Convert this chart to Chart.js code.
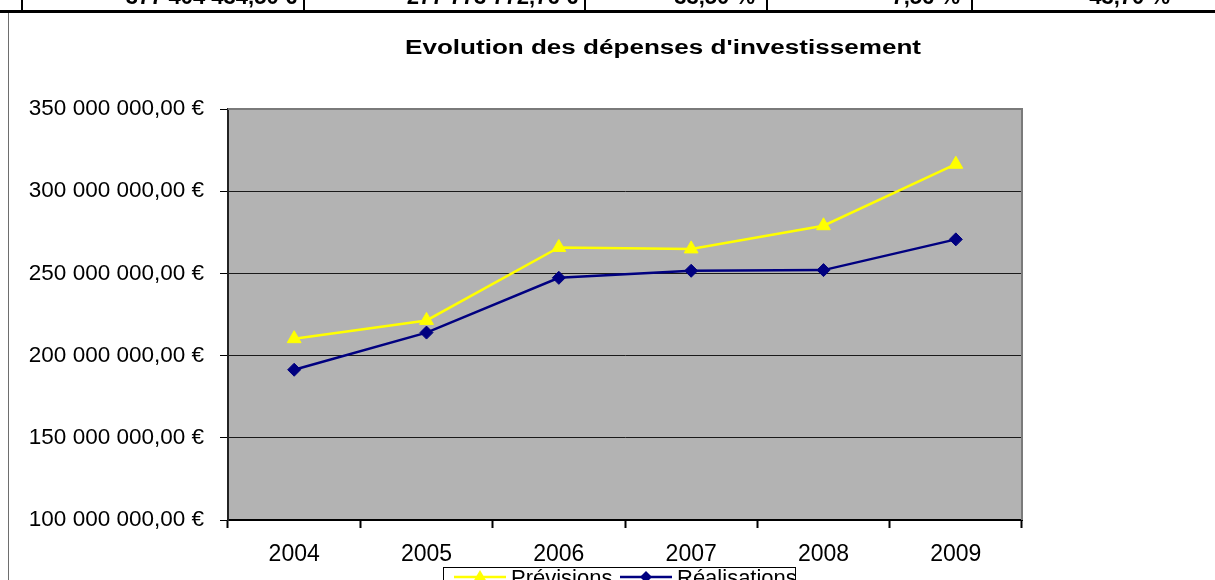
<!DOCTYPE html>
<html>
<head>
<meta charset="utf-8">
<script src="https://cdn.jsdelivr.net/npm/chart.js"></script>
<style>
  html, body { margin: 0; padding: 0; background: #fff; overflow: hidden; }
  #wrap { position: relative; width: 1215px; height: 580px; }
  #c { position: absolute; left: 0; top: 0; }
  .tbl { position: absolute; left: 0; top: 0; width: 1215px; height: 10px; overflow: hidden; z-index: 2; }
  .cell { position: absolute; top: -16px; line-height: 22px; font: bold 22px "Liberation Sans", Arial, sans-serif; white-space: nowrap; color: #000; }
  .vb { position: absolute; top: 0; width: 2px; height: 10px; background: #000; }
  .hb { position: absolute; left: 0; top: 10px; width: 1215px; height: 3px; background: #000; z-index: 2; }
  .frame { position: absolute; left: 8px; top: 13px; width: 1px; height: 567px; background: #6e6e6e; z-index: 2; }
</style>
</head>
<body>
<div id="wrap">
  <canvas id="c" width="1215" height="580"></canvas>
  <div class="tbl">
    <div class="vb" style="left:21px"></div>
    <div class="vb" style="left:303px"></div>
    <div class="vb" style="left:584px"></div>
    <div class="vb" style="left:766px"></div>
    <div class="vb" style="left:971px"></div>
    <span class="cell" style="right:918px">377 404 434,50 €</span>
    <span class="cell" style="right:637px">277 773 772,76 €</span>
    <span class="cell" style="right:460px">33,50 %</span>
    <span class="cell" style="right:255px">7,56 %</span>
    <span class="cell" style="right:45px">43,70 %</span>
  </div>
  <div class="hb"></div>
  <div class="frame"></div>
</div>
<script>
// ---- data ----
const chartTitle = "Evolution des dépenses d'investissement";
const years = ['2004', '2005', '2006', '2007', '2008', '2009'];
const previsions = [210300000, 221400000, 265800000, 264900000, 279000000, 316400000];
const realisations = [191400000, 214000000, 247300000, 251600000, 252000000, 270700000];
const yMin = 100000000, yMax = 350000000, yStep = 50000000;

const FONT = '"Liberation Sans", Arial, sans-serif';

function euro(v) {
  return Math.round(v).toString().replace(/\B(?=(\d{3})+(?!\d))/g, ' ') + ',00 €';
}

const plotDecor = {
  id: 'plotDecor',
  beforeDraw(chart) {
    const { ctx, chartArea: a } = chart;
    ctx.save();
    ctx.fillStyle = '#b3b3b3';
    ctx.fillRect(a.left, a.top, a.right - a.left, a.bottom - a.top);
    ctx.restore();
  },
  beforeDatasetsDraw(chart) {
    const { ctx, chartArea: a } = chart;
    ctx.save();
    ctx.strokeStyle = '#7a7a7a';
    ctx.lineWidth = 2;
    ctx.beginPath();
    ctx.moveTo(a.left, a.top);
    ctx.lineTo(a.right, a.top);
    ctx.lineTo(a.right, a.bottom);
    ctx.stroke();
    ctx.restore();
  },
  afterDraw(chart) {
    const { ctx } = chart;
    ctx.save();
    // title
    ctx.font = 'bold 20px ' + FONT;
    ctx.fillStyle = '#000';
    ctx.textBaseline = 'alphabetic';
    const w = ctx.measureText(chartTitle).width;
    const targetW = 516;
    ctx.translate(663, 54);
    ctx.scale(targetW / w, 1);
    ctx.textAlign = 'center';
    ctx.fillText(chartTitle, 0, 0);
    ctx.restore();

    // legend
    ctx.save();
    ctx.strokeStyle = '#000';
    ctx.lineWidth = 1;
    ctx.strokeRect(443.5, 567.5, 352, 40);
    const starts = [454, 620];
    const ly = 577;
    chart.data.datasets.forEach((ds, i) => {
      const x = starts[i];
      ctx.strokeStyle = ds.borderColor;
      ctx.lineWidth = 2.5;
      ctx.beginPath();
      ctx.moveTo(x, ly);
      ctx.lineTo(x + 52, ly);
      ctx.stroke();
      ctx.fillStyle = ds.borderColor;
      const cx = x + 26;
      ctx.beginPath();
      if (ds.pointStyle === 'triangle') {
        const r = 7;
        ctx.moveTo(cx, ly - r);
        ctx.lineTo(cx + r, ly + r * 0.7);
        ctx.lineTo(cx - r, ly + r * 0.7);
      } else {
        const r = 6;
        ctx.moveTo(cx, ly - r);
        ctx.lineTo(cx + r, ly);
        ctx.lineTo(cx, ly + r);
        ctx.lineTo(cx - r, ly);
      }
      ctx.closePath();
      ctx.fill();
      ctx.fillStyle = '#000';
      ctx.font = '22px ' + FONT;
      ctx.textAlign = 'left';
      ctx.textBaseline = 'alphabetic';
      ctx.fillText(ds.label, x + 57, 585);
    });
    ctx.restore();
  }
};

new Chart(document.getElementById('c'), {
  type: 'line',
  data: {
    labels: years,
    datasets: [
      {
        label: 'Prévisions',
        data: previsions,
        borderColor: '#ffff00',
        backgroundColor: '#ffff00',
        borderWidth: 2.5,
        pointStyle: 'triangle',
        pointRadius: 8,
        pointHoverRadius: 8,
        pointBackgroundColor: '#ffff00',
        pointBorderColor: '#ffff00',
        pointBorderWidth: 1,
        tension: 0,
        fill: false
      },
      {
        label: 'Réalisations',
        data: realisations,
        borderColor: '#000080',
        backgroundColor: '#000080',
        borderWidth: 2.5,
        pointStyle: 'rectRot',
        pointRadius: 6.5,
        pointHoverRadius: 6.5,
        pointBackgroundColor: '#000080',
        pointBorderColor: '#000080',
        pointBorderWidth: 1,
        tension: 0,
        fill: false
      }
    ]
  },
  options: {
    responsive: false,
    animation: false,
    devicePixelRatio: 1,
    layout: { padding: { left: 0, right: 193, top: 109, bottom: 0 } },
    plugins: {
      legend: { display: false },
      title: { display: false },
      tooltip: { enabled: false }
    },
    scales: {
      x: {
        type: 'category',
        offset: true,
        grid: {
          offset: true,
          drawOnChartArea: false,
          drawTicks: true,
          tickLength: 8,
          tickColor: '#000',
          tickWidth: 2,
          color: '#000'
        },
        border: { display: true, color: '#000', width: 2 },
        ticks: {
          color: '#000',
          font: { family: FONT, size: 23 },
          padding: 13,
          maxRotation: 0,
          autoSkip: false
        },
        afterFit(s) { s.height = 60; }
      },
      y: {
        min: yMin,
        max: yMax,
        grid: {
          color: (c) => (c.tick && c.tick.value === yMax) ? 'rgba(0,0,0,0)' : '#1a1a1a',
          lineWidth: 1,
          drawTicks: true,
          tickLength: 8,
          tickColor: '#000',
          tickWidth: 1
        },
        border: { display: true, color: '#222', width: 2 },
        ticks: {
          stepSize: yStep,
          color: '#000',
          font: { family: FONT, size: 22.5 },
          padding: 16,
          callback: (v) => euro(v)
        },
        afterFit(s) { s.width = 228; }
      }
    }
  },
  plugins: [plotDecor]
});
</script>
</body>
</html>
